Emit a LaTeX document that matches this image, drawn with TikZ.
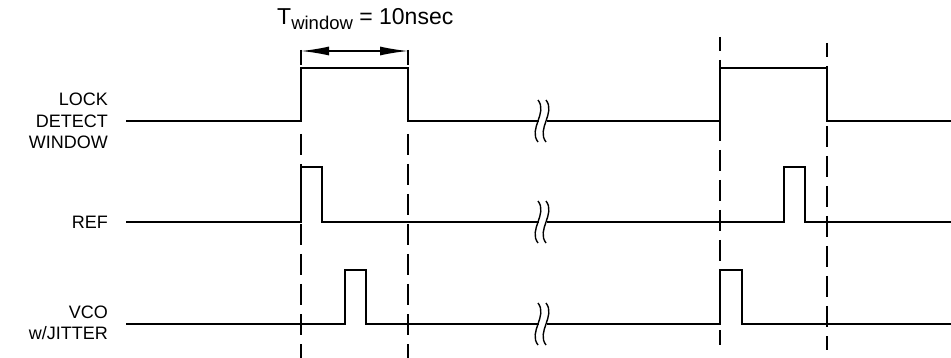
\documentclass[tikz,border=0pt]{standalone}
\usepackage{fontspec}
\setmainfont{Liberation Sans}
\usetikzlibrary{arrows.meta}

\begin{document}
\begin{tikzpicture}[x=1pt, y=-1pt,
    sig/.style={line width=1.4pt},
    guide/.style={line width=1.2pt, dash pattern=on 21pt off 9pt},
    lbl/.style={anchor=east, align=right, inner sep=0pt, font=\fontsize{18}{21.5}\selectfont},
    brk/.pic={
      \draw[sig] (-1,-21) .. controls (9,-8) and (-11,8) .. (-1,21);
      \draw[sig] (7,-21) .. controls (17,-8) and (-3,8) .. (7,21);
    }]
    \useasboundingbox (0,0) rectangle (951,358);
    % labels
    \node[lbl] (lock) at (108,121) {LOCK\\DETECT\\WINDOW};
    \node[lbl] (ref) at (108,222) {REF};
    \node[lbl] (vco) at (108,323) {VCO\\w/JITTER};
    \node[anchor=base west, inner sep=0pt, font=\fontsize{23}{23}\selectfont] (twin) at (277,25)
        {T\raisebox{-5pt}{\fontsize{18.5}{18.5}\selectfont window} = 10nsec};
    % lock detect window
    \draw[sig] (126,121) -- (301,121) -- (301,68) -- (408,68) -- (408,121) -- (539,121);
    \draw[sig] (547,121) -- (720,121) -- (720,68) -- (827,68) -- (827,121) -- (951,121);
    \pic at (539,121) {brk};
    % ref
    \draw[sig] (126,222) -- (301,222) -- (301,167) -- (322,167) -- (322,222) -- (539,222);
    \draw[sig] (547,222) -- (784,222) -- (784,167) -- (805,167) -- (805,222) -- (951,222);
    \pic at (539,222) {brk};
    % vco
    \draw[sig] (126,324) -- (345,324) -- (345,270) -- (366,270) -- (366,324) -- (539,324);
    \draw[sig] (547,324) -- (720,324) -- (720,270) -- (742,270) -- (742,324) -- (951,324);
    \pic at (539,324) {brk};
    % window width
    \draw[sig] (301,50) -- (301,65);
    \draw[sig] (408,50) -- (408,65);
    \draw[sig, {Latex[length=28pt,width=9pt]}-{Latex[length=28pt,width=9pt]}] (301,51) -- (408,51);
    % guides
    \draw[guide] (301,134) -- (301,358);
    \draw[guide] (408,134) -- (408,358);
    \draw[guide, dash phase=7pt] (720,37) -- (720,345);
    \draw[guide, dash phase=7pt] (827,43) -- (827,350);
\end{tikzpicture}
\end{document}
